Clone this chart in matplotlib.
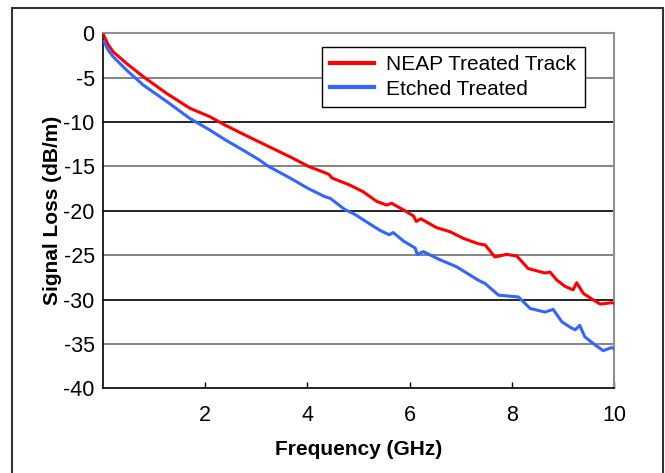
import matplotlib
matplotlib.use("Agg")
import matplotlib.pyplot as plt
from matplotlib.patches import Rectangle

plt.rcParams['font.family'] = ['Liberation Sans', 'DejaVu Sans']
plt.rcParams['axes.unicode_minus'] = False

# NEAP treated track
neap_freq = [0.0, 0.02, 0.1, 0.2, 0.46, 0.79, 1.25, 1.70, 2.09, 2.39, 2.72, 3.04, 3.69, 4.02,
             4.34, 4.42, 4.48, 4.83, 5.09, 5.36, 5.55, 5.65, 5.94, 6.08, 6.13, 6.22, 6.53,
             6.79, 7.05, 7.34, 7.48, 7.67, 7.90, 8.10, 8.32, 8.65, 8.75, 8.88, 9.04, 9.20,
             9.27, 9.40, 9.60, 9.73, 9.95, 10.0]
neap_loss = [-0.1, -0.3, -1.3, -2.1, -3.4, -4.9, -6.8, -8.45, -9.4, -10.35, -11.3, -12.2, -14.0, -15.0,
             -15.7, -15.9, -16.3, -17.1, -17.85, -18.95, -19.35, -19.15, -20.1, -20.6, -21.2, -20.9, -21.9,
             -22.35, -23.1, -23.7, -23.85, -25.2, -24.9, -25.1, -26.5, -27.0, -26.9, -27.8, -28.5, -28.9,
             -28.1, -29.3, -30.05, -30.5, -30.35, -30.4]

# Etched treated
etch_freq = [0.02, 0.1, 0.2, 0.46, 0.79, 1.25, 1.70, 2.09, 2.39, 2.72, 3.04, 3.24, 3.69, 4.02,
             4.34, 4.45, 4.73, 4.93, 5.09, 5.42, 5.60, 5.68, 5.88, 6.11, 6.15, 6.27, 6.59,
             6.92, 7.34, 7.48, 7.74, 8.13, 8.36, 8.65, 8.81, 8.98, 9.14, 9.24, 9.33, 9.43,
             9.63, 9.79, 9.95, 10.0]
etch_loss = [-0.95, -1.9, -2.65, -4.15, -5.85, -7.7, -9.6, -10.9, -12.0, -13.1, -14.2, -15.0, -16.4, -17.5,
             -18.4, -18.6, -19.85, -20.4, -21.0, -22.2, -22.7, -22.45, -23.4, -24.2, -24.9, -24.6, -25.5,
             -26.3, -27.8, -28.2, -29.5, -29.7, -31.0, -31.4, -31.1, -32.5, -33.1, -33.4, -32.9, -34.2,
             -35.1, -35.75, -35.4, -35.5]

x_ticks = [2, 4, 6, 8, 10]
y_ticks = [0, -5, -10, -15, -20, -25, -30, -35, -40]

fig = plt.figure(figsize=(6.65, 4.73), dpi=100)
ax = fig.add_axes([0.1549, 0.1788, 0.7684, 0.751])

for y in y_ticks[1:-1]:
    ax.axhline(y, color='black' if y % 10 == 0 else '#707070', lw=1.2, zorder=1)

ax.plot(neap_freq, neap_loss, color='#ff0000', lw=2.2, label='NEAP Treated Track', zorder=3)
ax.plot(etch_freq, etch_loss, color='#3366ff', lw=2.2, label='Etched Treated', zorder=3)

ax.set_xlim(0, 10)
ax.set_ylim(-40, 0)
ax.set_xticks(x_ticks)
ax.set_yticks(y_ticks)
ax.tick_params(axis='x', direction='in', length=4, width=1, pad=12, labelsize=15.5)
ax.tick_params(axis='y', length=0, pad=6, labelsize=15.5)

for side in ['left', 'bottom']:
    ax.spines[side].set_color('black')
    ax.spines[side].set_linewidth(1.2)
for side in ['top', 'right']:
    ax.spines[side].set_color('#909090')
    ax.spines[side].set_linewidth(1.5)

ax.set_xlabel('Frequency (GHz)', fontsize=15, fontweight='bold', labelpad=10)
ax.set_ylabel('Signal Loss (dB/m)', fontsize=15, fontweight='bold', labelpad=1)

leg = ax.legend(loc='upper right', bbox_to_anchor=(0.943, 0.961), borderaxespad=0,
                fontsize=15, handlelength=2.1, handletextpad=0.6, labelspacing=0.25,
                fancybox=False, framealpha=1, borderpad=0.4)
leg.get_frame().set_edgecolor('black')
leg.get_frame().set_linewidth(1)
for line in leg.get_lines():
    line.set_linewidth(3)

fig.add_artist(Rectangle((12 / 665, -0.05), (663 - 12) / 665, 0.983 + 0.05,
                         transform=fig.transFigure, fill=False,
                         edgecolor='#333333', lw=1.5, clip_on=False))

fig.savefig('out.png', dpi=100)
